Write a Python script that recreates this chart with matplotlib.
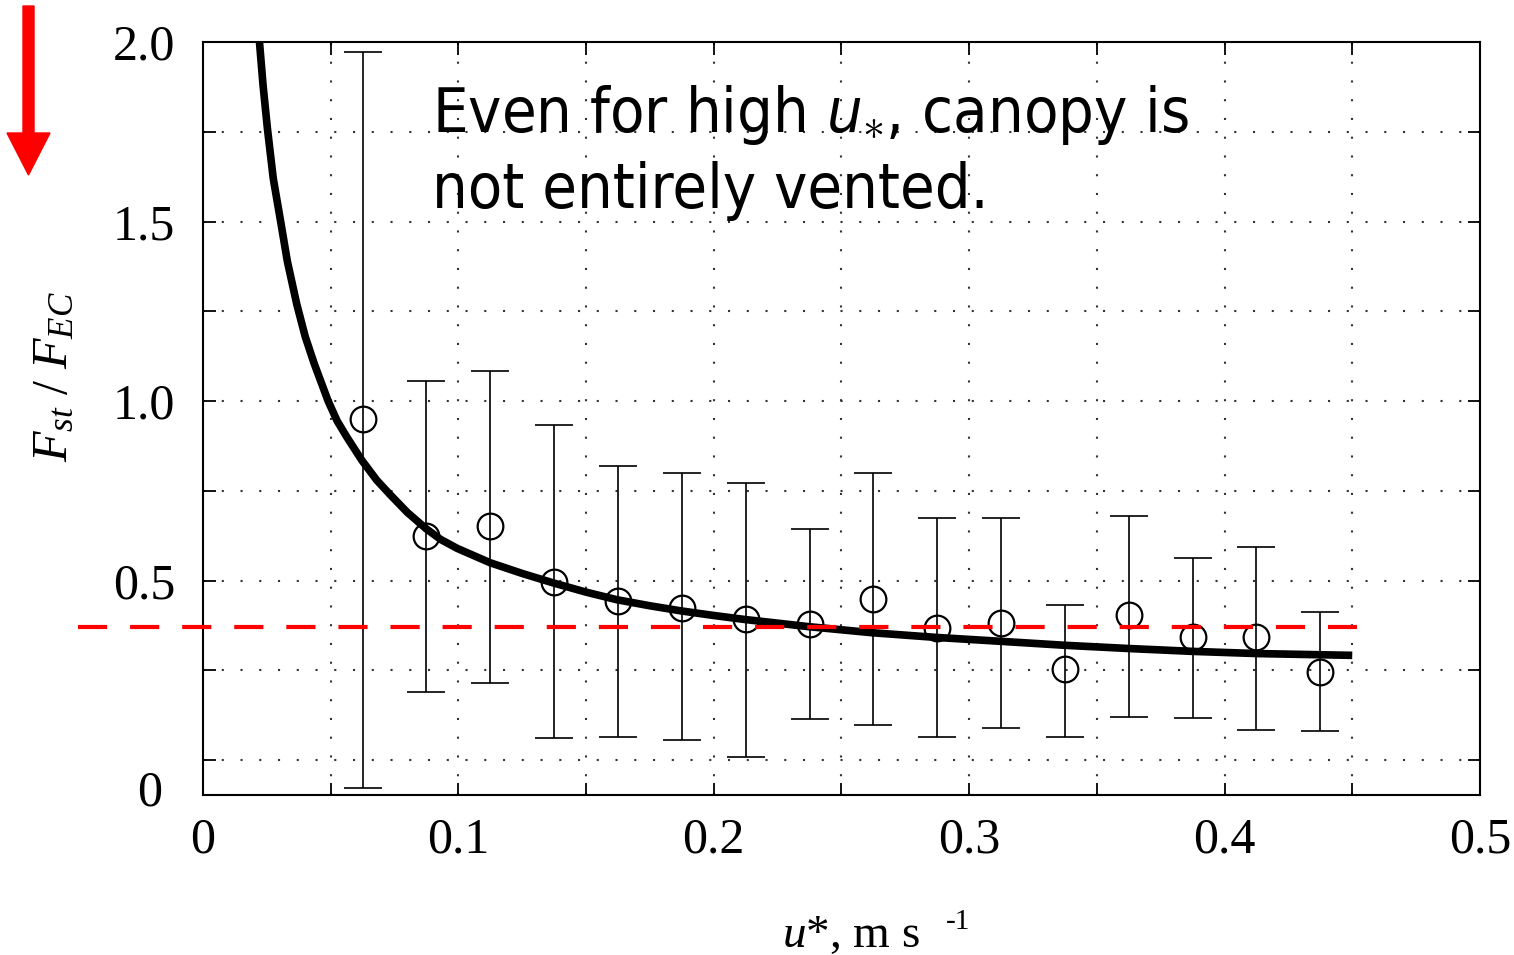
import matplotlib
matplotlib.use("Agg")
import matplotlib.pyplot as plt
import matplotlib.patches as patches
from matplotlib import font_manager

# --- data ---
u_star = [0.0625, 0.0875, 0.1125, 0.1375, 0.1625, 0.1875, 0.2125, 0.2375,
          0.2625, 0.2875, 0.3125, 0.3375, 0.3625, 0.3875, 0.4125, 0.4375]
ratio = [0.95, 0.625, 0.653, 0.497, 0.444, 0.425, 0.392, 0.378,
         0.45, 0.369, 0.383, 0.253, 0.403, 0.342, 0.342, 0.247]
err_top = [1.972, 1.056, 1.083, 0.933, 0.819, 0.80, 0.772, 0.644,
           0.80, 0.675, 0.675, 0.433, 0.681, 0.564, 0.594, 0.414]
err_bot = [-0.078, 0.189, 0.214, 0.061, 0.064, 0.056, 0.008, 0.114,
           0.097, 0.064, 0.089, 0.064, 0.119, 0.117, 0.083, 0.081]

# fitted curve
fit_x = [0.0221, 0.0235, 0.0252, 0.0275, 0.0304, 0.033, 0.0367, 0.04,
         0.0435, 0.049, 0.0525, 0.0563, 0.0622, 0.068, 0.0732, 0.08,
         0.0873, 0.093, 0.0995, 0.1124, 0.125, 0.137, 0.15, 0.162, 0.175,
         0.187, 0.2, 0.212, 0.237, 0.262, 0.287, 0.3125, 0.3375, 0.3626,
         0.3877, 0.4127, 0.45]
fit_y = [2.0, 1.88, 1.76, 1.62, 1.5, 1.39, 1.27, 1.18,
         1.105, 1.0, 0.945, 0.9, 0.835, 0.78, 0.74, 0.69,
         0.645, 0.615, 0.59, 0.55, 0.52, 0.494, 0.468, 0.447, 0.43,
         0.416, 0.403, 0.392, 0.372, 0.355, 0.342, 0.331, 0.32, 0.311,
         0.303, 0.297, 0.292]

ref_level = 0.372
ref_x = [-0.049, 0.452]

x_ticks = [0, 0.05, 0.1, 0.15, 0.2, 0.25, 0.3, 0.35, 0.4, 0.45, 0.5]
x_ticklabels = ["0", "", "0.1", "", "0.2", "", "0.3", "", "0.4", "", "0.5"]
y_ticks = [0, 0.25, 0.5, 0.75, 1.0, 1.25, 1.5, 1.75, 2.0]
y_ticklabels = ["", "", "0.5", "", "1.0", "", "1.5", "", "2.0"]

note_1 = r"Even for high $\mathsf{u}_{\ast}$, canopy is"
note_2 = "not entirely vented."

# fonts: prefer a narrow sans for the note
fonts = font_manager.fontManager.ttflist
names = {f.name for f in fonts}
stretch = "normal"
if "Liberation Sans Narrow" in names:
    sans = "Liberation Sans Narrow"
elif any(f.name == "DejaVu Sans" and f.stretch == "condensed" for f in fonts):
    sans, stretch = "DejaVu Sans", "condensed"
else:
    sans = "Liberation Sans"
serif = "Liberation Serif"

plt.rcParams["font.family"] = [serif, "DejaVu Serif"]
plt.rcParams["mathtext.fontset"] = "custom"
plt.rcParams["mathtext.rm"] = serif
plt.rcParams["mathtext.it"] = serif + ":italic"
plt.rcParams["mathtext.sf"] = sans + ":italic:stretch=" + stretch

fig = plt.figure(figsize=(15.14, 9.55), dpi=100)
ax = fig.add_axes([0.1341, 0.1675, 0.8434, 0.7885])

ax.set_xlim(0, 0.5)
ax.set_ylim(-0.097, 2.0)

# dotted grid
for gx in x_ticks[1:-1]:
    ax.axvline(gx, color="#333333", lw=1.5, dashes=(1, 8), zorder=0)
for gy in y_ticks[:-1]:
    ax.axhline(gy, color="#333333", lw=1.5, dashes=(1, 8), zorder=0)

# error bars and open circles
yerr = [[r - b for r, b in zip(ratio, err_bot)],
        [t - r for r, t in zip(ratio, err_top)]]
ax.errorbar(u_star, ratio, yerr=yerr, fmt="none", ecolor="black",
            elinewidth=1.2, capsize=14, capthick=1.2, zorder=2)
ax.plot(u_star, ratio, "o", ms=18.5, mfc="none", mec="black", mew=1.6, zorder=3)

# fitted curve
ax.plot(fit_x, fit_y, color="black", lw=5.5, solid_capstyle="butt",
        solid_joinstyle="round", zorder=4)

# red reference line
ax.plot(ref_x, [ref_level, ref_level], color="#ff0000", lw=3,
        dashes=(7, 5.5), clip_on=False, zorder=5)

# ticks
ax.set_xticks(x_ticks)
ax.set_xticklabels(x_ticklabels)
ax.set_yticks(y_ticks)
ax.set_yticklabels(y_ticklabels)
ax.tick_params(axis="both", direction="in", length=9, width=1.3,
               top=True, right=True, labelsize=36)
ax.tick_params(axis="x", pad=16)
ax.tick_params(axis="y", pad=20)
for s in ax.spines.values():
    s.set_linewidth(1.5)

ax.text(-0.0415, -0.092, "0", transform=ax.get_yaxis_transform(),
        fontsize=36, ha="center", va="center")

# axis labels
fig.text(0.0363, 0.606, r"$F_{st}\ /\ F_{EC}$", rotation=90,
         ha="center", va="center", fontsize=36)
fig.text(782 / 1514, 1 - 947 / 955, r"$u$*, m s", ha="left",
         va="baseline", fontsize=34)
fig.text(946 / 1514, 1 - 929 / 955, "-1", ha="left",
         va="baseline", fontsize=21)

# annotation, sized so the first line spans the same width as the original
t1 = fig.text(432 / 1514, 1 - 132 / 955, note_1, family=sans,
              fontstretch=stretch, fontsize=45, ha="left", va="baseline")
t2 = fig.text(432 / 1514, 1 - 208 / 955, note_2, family=sans,
              fontstretch=stretch, fontsize=45, ha="left", va="baseline")
fig.canvas.draw()
w = t1.get_window_extent().width
size = min(45 * 758 / w, 48)
t1.set_fontsize(size)
t2.set_fontsize(size)

# red arrow at top left
arrow = patches.FancyArrow(0.285, 9.49, 0, -1.69, width=0.11, head_width=0.43,
                           head_length=0.42, length_includes_head=True,
                           color="#ff0000", transform=fig.dpi_scale_trans)
fig.add_artist(arrow)

fig.savefig("out.png", dpi=100)
